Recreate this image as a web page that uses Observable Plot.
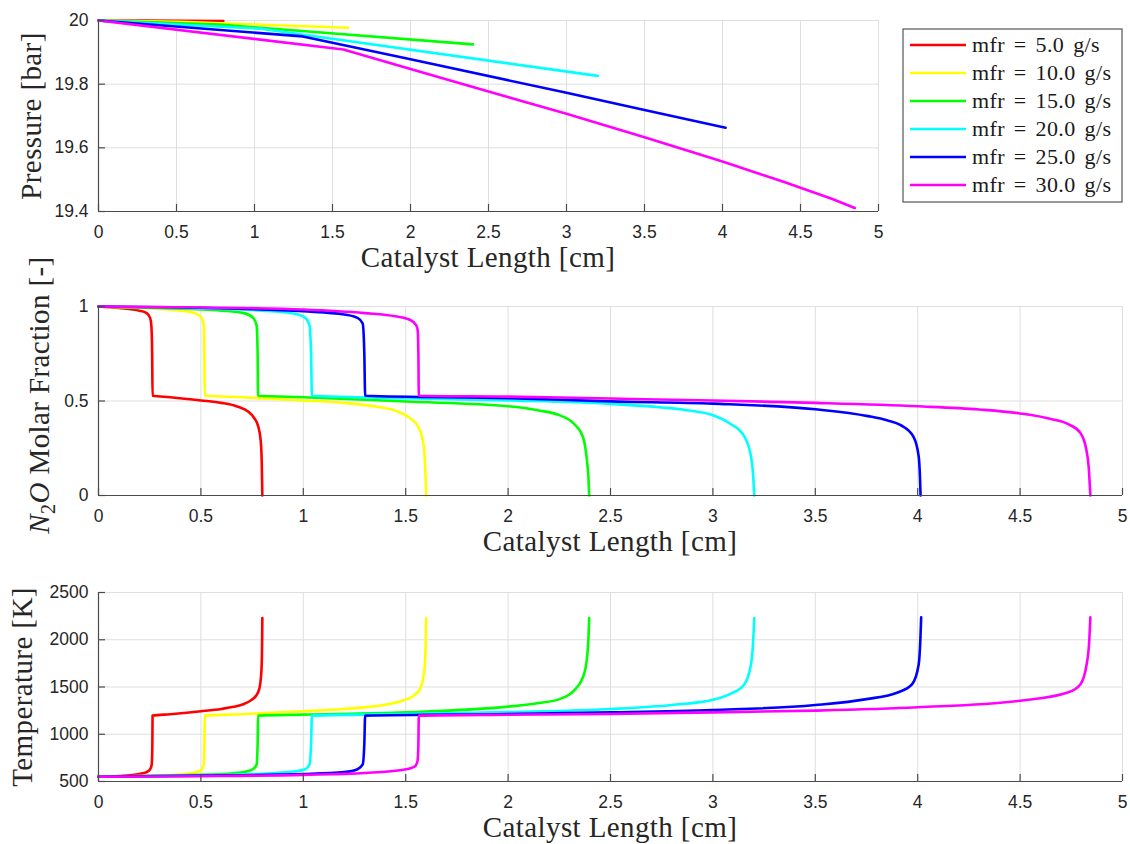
<!DOCTYPE html>
<html>
<head>
<meta charset="utf-8">
<script src="https://cdn.jsdelivr.net/npm/d3@7"></script>
<script src="https://cdn.jsdelivr.net/npm/@observablehq/plot@0.6"></script>
<style>
  html, body { margin: 0; padding: 0; background: #fff; }
  #root { position: relative; width: 1130px; height: 844px; overflow: hidden; background: #fff; }
  #root > svg { position: absolute; left: 0; }
</style>
</head>
<body>
<div id="root"></div>
<script>
// ---------- data ----------
const seriesLabels = ["mfr = 5.0 g/s", "mfr = 10.0 g/s", "mfr = 15.0 g/s", "mfr = 20.0 g/s", "mfr = 25.0 g/s", "mfr = 30.0 g/s"];
const seriesColors = ["#ff0000", "#ffff00", "#00ff00", "#00ffff", "#0000ff", "#ff00ff"];

const xTicks = [0, 0.5, 1, 1.5, 2, 2.5, 3, 3.5, 4, 4.5, 5];
const pressureTicks = [19.4, 19.6, 19.8, 20];
const n2oTicks = [0, 0.5, 1];
const tempTicks = [500, 1000, 1500, 2000, 2500];

const xLabel = "Catalyst Length [cm]";
const pressureLabel = "Pressure [bar]";
const tempLabel = "Temperature [K]";

// Pressure [bar] vs length [cm]
const pressure5  = [[0, 20], [0.26, 19.9995], [0.8, 19.998]];
const pressure10 = [[0, 20], [0.52, 19.996], [1.6, 19.977]];
const pressure15 = [[0, 20], [0.78, 19.987], [2.4, 19.925]];
const pressure20 = [[0, 20], [1.04, 19.974], [3.2, 19.826]];
const pressure25 = [[0, 20], [1.31, 19.950], [2.0, 19.878], [3.0, 19.773], [3.5, 19.719], [4.02, 19.663]];
const pressure30 = [[0, 20], [1.57, 19.909], [2.0, 19.848], [2.5, 19.777], [3.0, 19.707], [3.5, 19.633], [4.0, 19.557], [4.4, 19.492], [4.7, 19.440], [4.848, 19.411]];

// N2O molar fraction vs length
const n2o5  = [[0, 1], [0.1, 0.992], [0.2, 0.978], [0.235, 0.965], [0.252, 0.94], [0.258, 0.9], [0.262, 0.75], [0.264, 0.528], [0.35, 0.52], [0.5, 0.503], [0.6, 0.49], [0.68, 0.47], [0.73, 0.445], [0.76, 0.41], [0.78, 0.365], [0.792, 0.29], [0.797, 0.18], [0.8, 0]];
const n2o10 = [[0, 1], [0.2, 0.992], [0.4, 0.978], [0.47, 0.965], [0.503, 0.94], [0.514, 0.9], [0.517, 0.75], [0.519, 0.528], [0.7, 0.52], [1.0, 0.503], [1.2, 0.49], [1.36, 0.47], [1.46, 0.445], [1.52, 0.41], [1.56, 0.365], [1.584, 0.29], [1.594, 0.18], [1.6, 0]];
const n2o15 = [[0, 1], [0.3, 0.992], [0.6, 0.978], [0.71, 0.965], [0.755, 0.94], [0.772, 0.9], [0.777, 0.75], [0.779, 0.528], [1.0, 0.52], [1.5, 0.497], [2.0, 0.472], [2.15, 0.45], [2.25, 0.425], [2.32, 0.381], [2.365, 0.311], [2.383, 0.206], [2.392, 0.1], [2.396, 0]];
const n2o20 = [[0, 1], [0.4, 0.992], [0.8, 0.978], [0.95, 0.963], [1.01, 0.94], [1.03, 0.9], [1.038, 0.75], [1.042, 0.528], [1.5, 0.515], [2.0, 0.503], [2.5, 0.485], [2.75, 0.466], [2.9, 0.447], [3.0, 0.425], [3.083, 0.381], [3.154, 0.311], [3.186, 0.206], [3.197, 0.1], [3.202, 0]];
const n2o25 = [[0, 1], [0.5, 0.993], [1.0, 0.975], [1.2, 0.958], [1.265, 0.94], [1.29, 0.91], [1.298, 0.75], [1.302, 0.528], [2.0, 0.515], [2.5, 0.498], [3.0, 0.486], [3.5, 0.456], [3.757, 0.42], [3.85, 0.398], [3.917, 0.372], [3.979, 0.311], [4.005, 0.206], [4.011, 0.1], [4.014, 0]];
const n2o30 = [[0, 1], [0.5, 0.995], [1.0, 0.984], [1.3, 0.965], [1.45, 0.948], [1.52, 0.93], [1.548, 0.905], [1.558, 0.88], [1.562, 0.75], [1.564, 0.528], [2.0, 0.523], [2.5, 0.513], [3.0, 0.503], [3.5, 0.49], [4.0, 0.472], [4.3, 0.455], [4.5, 0.434], [4.65, 0.405], [4.74, 0.375], [4.795, 0.33], [4.822, 0.25], [4.835, 0.15], [4.843, 0]];

// Temperature [K] vs length
const temp5  = [[0, 550], [0.1, 558], [0.2, 580], [0.235, 600], [0.252, 630], [0.26, 680], [0.263, 900], [0.264, 1197], [0.35, 1212], [0.5, 1243], [0.6, 1268], [0.66, 1290], [0.71, 1320], [0.745, 1360], [0.77, 1410], [0.785, 1480], [0.793, 1600], [0.797, 1750], [0.799, 2000], [0.8, 2230]];
const temp10 = [[0, 550], [0.2, 558], [0.4, 575], [0.47, 595], [0.503, 625], [0.514, 680], [0.517, 900], [0.519, 1197], [0.7, 1212], [1.0, 1243], [1.2, 1268], [1.32, 1290], [1.42, 1320], [1.49, 1360], [1.54, 1410], [1.57, 1480], [1.586, 1600], [1.594, 1750], [1.598, 2000], [1.6, 2230]];
const temp15 = [[0, 550], [0.3, 560], [0.6, 578], [0.71, 600], [0.755, 630], [0.772, 680], [0.777, 900], [0.779, 1197], [1.0, 1208], [1.5, 1232], [2.0, 1292], [2.15, 1330], [2.25, 1372], [2.32, 1460], [2.365, 1600], [2.385, 1800], [2.392, 2000], [2.396, 2230]];
const temp20 = [[0, 550], [0.4, 562], [0.8, 582], [0.95, 605], [1.01, 630], [1.03, 680], [1.038, 900], [1.042, 1197], [1.5, 1215], [2.0, 1235], [2.5, 1267], [2.8, 1310], [3.0, 1365], [3.083, 1425], [3.154, 1530], [3.186, 1740], [3.197, 2000], [3.202, 2230]];
const temp25 = [[0, 550], [0.5, 562], [1.0, 580], [1.2, 600], [1.265, 630], [1.29, 680], [1.298, 900], [1.302, 1197], [2.0, 1215], [2.5, 1232], [3.0, 1257], [3.5, 1309], [3.75, 1372], [3.902, 1442], [3.973, 1530], [4.005, 1740], [4.013, 2000], [4.017, 2237]];
const temp30 = [[0, 550], [0.5, 556], [1.0, 570], [1.3, 590], [1.49, 625], [1.545, 660], [1.558, 720], [1.562, 900], [1.564, 1197], [2.0, 1207], [2.5, 1215], [3.0, 1232], [3.5, 1250], [4.0, 1285], [4.5, 1355], [4.733, 1442], [4.795, 1530], [4.825, 1740], [4.838, 2000], [4.843, 2237]];

// ---------- build ----------
const gridColor = "#dfdfdf";
const axisColor = "#4a4a4a";
const textColor = "#262626";

function makeRows(list) {
  return list.flatMap((pts, i) => pts.map(([x, y]) => ({series: seriesLabels[i], x, y})));
}

function panel({rows, yDomain, yTicks, top, width, height, marginTop, marginBottom, marginRight, curve}) {
  const marginLeft = 98;
  const frameW = width - marginLeft - marginRight;
  const frameH = height - marginTop - marginBottom;
  const svg = Plot.plot({
    width, height, marginLeft, marginRight, marginTop, marginBottom,
    style: {fontFamily: "'Liberation Sans', Arial, Helvetica, sans-serif", fontSize: "17.5px", color: textColor, background: "transparent", overflow: "visible"},
    x: {domain: [0, 5], ticks: xTicks, tickSize: 0, tickPadding: 14, tickFormat: d => String(d), label: null},
    y: {domain: yDomain, ticks: yTicks, tickSize: 0, tickPadding: 10, tickFormat: d => String(d), label: null},
    color: {domain: seriesLabels, range: seriesColors},
    marks: [
      Plot.ruleX(xTicks, {stroke: gridColor, strokeWidth: 1}),
      Plot.ruleY(yTicks, {stroke: gridColor, strokeWidth: 1}),
      Plot.line(rows, {x: "x", y: "y", z: "series", stroke: "series", strokeWidth: 2.6, curve}),
      Plot.ruleX([0], {stroke: axisColor, strokeWidth: 1.2}),
      Plot.ruleY([yDomain[0]], {stroke: axisColor, strokeWidth: 1.2}),
      Plot.ruleX(xTicks, {stroke: axisColor, strokeWidth: 1.2, insetTop: frameH - 7}),
      Plot.ruleY(yTicks, {stroke: axisColor, strokeWidth: 1.2, insetRight: frameW - 7})
    ]
  });
  svg.style.top = top + "px";
  return svg;
}

const root = document.getElementById("root");

root.appendChild(panel({
  rows: makeRows([pressure5, pressure10, pressure15, pressure20, pressure25, pressure30]),
  yDomain: [19.4, 20], yTicks: pressureTicks, curve: "linear",
  top: 0, width: 1130, height: 280, marginTop: 20, marginBottom: 69, marginRight: 252
}));
root.appendChild(panel({
  rows: makeRows([n2o5, n2o10, n2o15, n2o20, n2o25, n2o30]),
  yDomain: [0, 1], yTicks: n2oTicks, curve: "monotone-x",
  top: 285, width: 1130, height: 290, marginTop: 21, marginBottom: 80, marginRight: 8
}));
root.appendChild(panel({
  rows: makeRows([temp5, temp10, temp15, temp20, temp25, temp30]),
  yDomain: [500, 2500], yTicks: tempTicks, curve: "monotone-x",
  top: 575, width: 1130, height: 269, marginTop: 17, marginBottom: 63, marginRight: 8
}));

// ---------- overlay: axis labels and legend ----------
const overlay = d3.create("svg")
  .attr("width", 1130).attr("height", 844)
  .style("position", "absolute").style("top", "0px").style("left", "0px")
  .style("pointer-events", "none");

const serif = "'Liberation Serif', 'Times New Roman', serif";

function xLab(x, y) {
  overlay.append("text").attr("x", x).attr("y", y)
    .attr("text-anchor", "middle").attr("font-family", serif).attr("font-size", 29)
    .attr("letter-spacing", "0.4px").attr("fill", textColor).text(xLabel);
}
xLab(488, 267);
xLab(610, 551);
xLab(610, 837);

function yLab(x, y) {
  return overlay.append("text").attr("transform", `translate(${x},${y}) rotate(-90)`)
    .attr("text-anchor", "middle").attr("font-family", serif).attr("font-size", 29)
    .attr("letter-spacing", "0.4px").attr("fill", textColor);
}
yLab(41, 116).text(pressureLabel);
const n2oLab = yLab(49, 395);
n2oLab.append("tspan").attr("font-style", "italic").text("N");
n2oLab.append("tspan").attr("font-size", 20).attr("dy", 6).text("2");
n2oLab.append("tspan").attr("font-style", "italic").attr("dy", -6).text("O");
n2oLab.append("tspan").text(" Molar Fraction [-]");
yLab(32, 687).text(tempLabel);

// legend
const lg = overlay.append("g");
lg.append("rect").attr("x", 903).attr("y", 29).attr("width", 219).attr("height", 173)
  .attr("fill", "#fff").attr("stroke", "#555").attr("stroke-width", 1.2);
seriesLabels.forEach((lab, i) => {
  const cy = 45 + i * 28;
  lg.append("line").attr("x1", 910).attr("x2", 966).attr("y1", cy).attr("y2", cy)
    .attr("stroke", seriesColors[i]).attr("stroke-width", 2.6);
  lg.append("text").attr("x", 972).attr("y", cy + 7)
    .attr("font-family", serif).attr("font-size", 22)
    .attr("word-spacing", "3px").attr("letter-spacing", "0.4px")
    .attr("fill", "#1a1a1a").text(lab);
});

root.appendChild(overlay.node());
</script>
</body>
</html>
